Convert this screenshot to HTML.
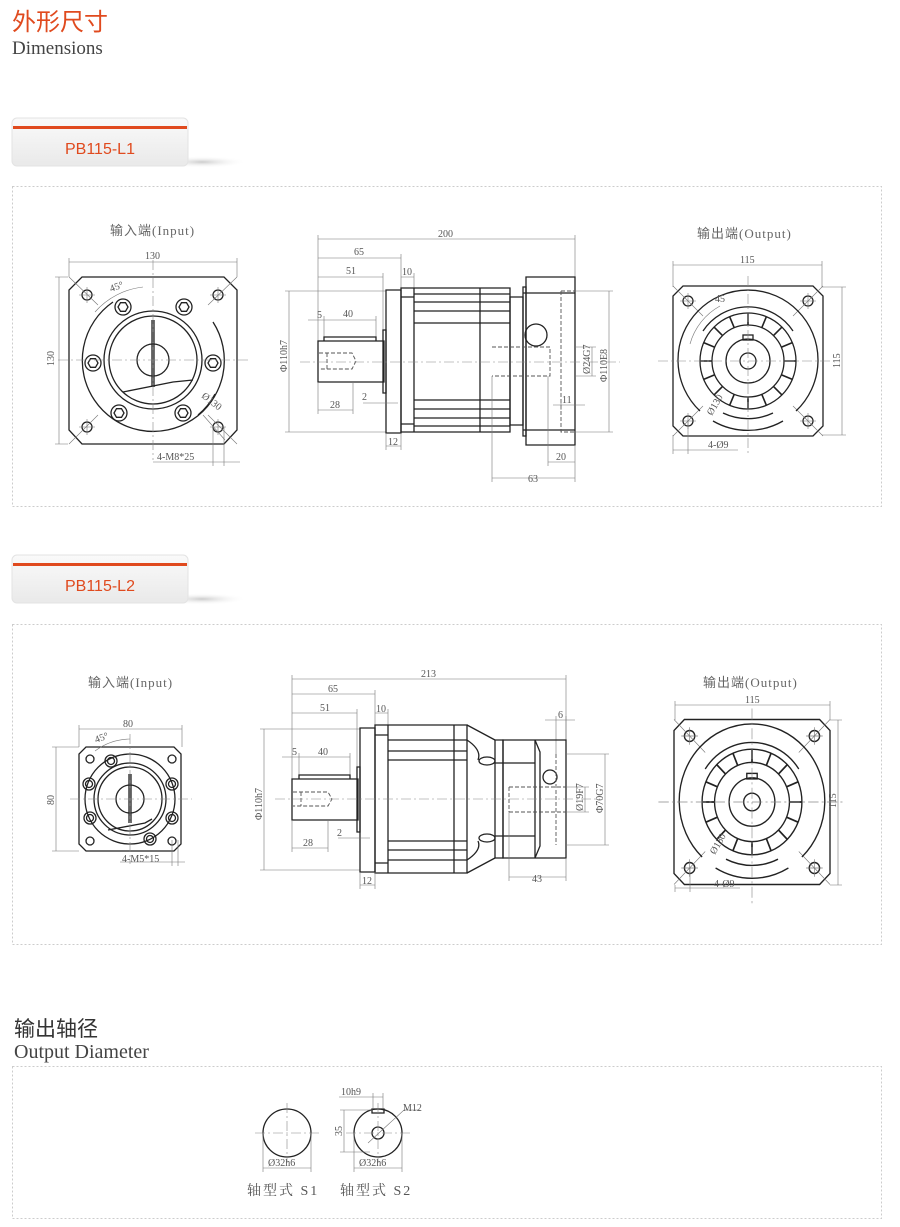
<!DOCTYPE html>
<html><head><meta charset="utf-8">
<style>
html,body{margin:0;padding:0;background:#fff;width:900px;height:1227px;overflow:hidden}
svg{display:block}
.o{fill:none;stroke:#222;stroke-width:1.3}
.d{fill:none;stroke:#777;stroke-width:.6}
.c{fill:none;stroke:#888;stroke-width:.6;stroke-dasharray:10 3 2 3}
.h{fill:none;stroke:#555;stroke-width:.9;stroke-dasharray:4 2}
.t{font-family:"Liberation Serif","Noto Serif CJK SC",serif;font-size:10px;fill:#555}
.lab{font-family:"Liberation Serif","Noto Sans CJK SC",serif;font-size:13px;fill:#666;letter-spacing:1px}
.tab{font-family:"Liberation Sans",sans-serif;font-size:16px;fill:#e04a1e}
</style></head><body>
<svg width="900" height="1227" viewBox="0 0 900 1227" xmlns="http://www.w3.org/2000/svg">
<defs>
<linearGradient id="tg" x1="0" y1="0" x2="0" y2="1"><stop offset="0" stop-color="#fafafa"/><stop offset="1" stop-color="#e9e9e9"/></linearGradient>
<radialGradient id="sh" cx="0.5" cy="0.5" r="0.5"><stop offset="0" stop-color="#ccc"/><stop offset="1" stop-color="#fff" stop-opacity="0"/></radialGradient>
<g id="tabg">
<ellipse cx="190" cy="44" rx="45" ry="6" fill="url(#sh)"/>
<rect x="0" y="0" width="176" height="48" rx="5" fill="url(#tg)" stroke="#e3e3e3"/>
<rect x="1" y="8" width="174" height="3" fill="#e04a1e"/>
</g>
<g id="hexb"><circle r="8" class="o"/><polygon points="5,0 2.5,4.3 -2.5,4.3 -5,0 -2.5,-4.3 2.5,-4.3" class="o"/></g>
<g id="hole"><circle r="5" class="o"/><path d="M-8 0H8M0 -8V8" class="d"/></g>
<g id="outv">
<path d="M-65 -75H65L75 -65V65L65 75H-65L-75 65V-65Z" class="o"/>
<use href="#hole" x="-60" y="-60"/><use href="#hole" x="60" y="-60"/><use href="#hole" x="-60" y="60"/><use href="#hole" x="60" y="60"/>
<path d="M-75 -75L-45 -45M75 -75L45 -45M-75 75L-45 45M75 75L45 45" class="d"/>
<path d="M-48 50A70 70 0 1 1 48 50" class="o"/>
<path d="M-35 60A70 70 0 0 0 35 60" class="o"/>
<path d="M-45 -30A54 54 0 0 1 45 -30" class="o"/>
<path d="M-25 52A58 58 0 0 0 25 52" class="o"/>
<circle r="48" class="o"/><circle r="36" class="o"/><circle r="22" class="o"/><circle r="8" class="o"/>
<rect x="-5" y="-26" width="10" height="5" class="o"/>
<g class="o" style="stroke-width:1.6">
<path d="M0 -36V-48M0 36V48M-36 0H-48M36 0H48"/>
<path d="M0 -36V-48M0 36V48" transform="rotate(45)"/><path d="M0 -36V-48M0 36V48" transform="rotate(-45)"/>
<path d="M0 -36V-48M0 36V48" transform="rotate(22.5)"/><path d="M0 -36V-48M0 36V48" transform="rotate(-22.5)"/>
<path d="M0 -36V-48M0 36V48" transform="rotate(67.5)"/><path d="M0 -36V-48M0 36V48" transform="rotate(-67.5)"/>
</g>
<path d="M-90 0H90M0 -85V95" class="c"/>
</g>
</defs>

<text x="12" y="30" style="font-family:'Noto Sans CJK SC',sans-serif;font-size:24px;fill:#e04a1e">外形尺寸</text>
<text x="12" y="54" style="font-family:'Liberation Serif',serif;font-size:19px;fill:#444">Dimensions</text>

<use href="#tabg" x="12" y="118"/>
<text x="100" y="154" text-anchor="middle" class="tab">PB115-L1</text>
<rect x="12.5" y="186.5" width="869" height="320" fill="none" stroke="#ccc" stroke-dasharray="2 2"/>

<use href="#tabg" x="12" y="555"/>
<text x="100" y="591" text-anchor="middle" class="tab">PB115-L2</text>
<rect x="12.5" y="624.5" width="869" height="320" fill="none" stroke="#ccc" stroke-dasharray="2 2"/>

<text x="14" y="1036" style="font-family:'Noto Sans CJK SC',sans-serif;font-size:21px;fill:#333">输出轴径</text>
<text x="14" y="1058" style="font-family:'Liberation Serif',serif;font-size:20px;fill:#444">Output Diameter</text>
<rect x="12.5" y="1066.5" width="869" height="152" fill="none" stroke="#ccc" stroke-dasharray="2 2"/>

<!-- L1 left -->
<text x="110" y="235" class="lab">输入端(Input)</text>
<g transform="translate(153,360)">
<path d="M-71 -83H71L84 -70V70L71 84H-71L-84 70V-70Z" class="o"/>
<use href="#hole" x="-66" y="-65"/><use href="#hole" x="65" y="-65"/><use href="#hole" x="-66" y="67"/><use href="#hole" x="65" y="67"/>
<path d="M-84 -83L-55 -55M84 -83L55 -55M-84 84L-55 55M84 84L55 55" class="d"/>
<path d="M-40 -58A71 71 0 1 0 60 -38" class="o"/>
<path d="M62 34A71 71 0 0 1 45 55" class="o"/>
<circle r="49" class="o"/><circle r="44" class="o"/>
<path d="M-30 32L20 22L40 20" class="o"/>
<circle r="16" class="o"/>
<path d="M-1 -40V27M1 -40V27" class="o"/>
<use href="#hexb" x="-30" y="-53"/><use href="#hexb" x="31" y="-53"/>
<use href="#hexb" x="-60" y="3"/><use href="#hexb" x="60" y="3"/>
<use href="#hexb" x="-34" y="53"/><use href="#hexb" x="30" y="53"/>
<path d="M-95 0H95M0 -100V100" class="c"/>
<path d="M-58 -48A75 75 0 0 1 -10 -73" class="d"/>
<text x="-42" y="-68" class="t" transform="rotate(-20 -42 -68)">45°</text>
<path d="M50 55L72 80" class="d"/>
<text x="48" y="37" class="t" transform="rotate(38 48 37)">Ø130</text>
</g>
<path d="M69 262H237M69 258V277M237 258V277" class="d"/>
<text x="145" y="259" class="t">130</text>
<path d="M59 277V444M55 277H68M55 444H68" class="d"/>
<text x="54" y="366" class="t" transform="rotate(-90 54 366)">130</text>
<path d="M153 462H240M213 427V466M224 427V466" class="d"/>
<text x="157" y="460" class="t">4-M8*25</text>

<!-- L1 middle -->
<g>
<path d="M318 239H575M318 235V341M575 235V278" class="d"/>
<text x="438" y="237" class="t">200</text>
<path d="M318 258H401M401 254V290" class="d"/><text x="354" y="255" class="t">65</text>
<path d="M318 277H383M383 273V330" class="d"/><text x="346" y="274" class="t">51</text>
<path d="M401 277H414M414 273V290" class="d"/><text x="402" y="275" class="t">10</text>
<path d="M308 320H376M324 316V337M376 316V337" class="d"/><text x="317" y="318" class="t">5</text><text x="343" y="317" class="t">40</text>
<path d="M289 291V432M285 291H386M285 432H386" class="d"/>
<text x="287" y="372" class="t" transform="rotate(-90 287 372)">Φ110h7</text>
<path d="M318 341H384V382H318Z" class="o"/>
<path d="M324 341V337H376V341" class="o"/>
<path d="M319 353H352L356 361L352 369H319M327 353V369" class="h"/>
<path d="M383 330H386V393H383Z" class="o"/>
<path d="M386 290H401V433H386Z" class="o"/>
<path d="M401 288H510V432H401ZM401 297H414M401 424H414M414 288V432" class="o"/>
<path d="M414 294H510M414 302H510M414 311H510M414 323H510M414 400H510M414 409H510M414 418H510M414 426H510" class="o"/>
<path d="M480 288V432" class="o"/>
<path d="M510 297H523V425H510Z" class="o"/>
<path d="M523 287H526V436H523Z" class="o"/>
<path d="M526 277H575V445H526Z" class="o"/>
<path d="M523 293H575M523 430H575" class="o"/>
<circle cx="536" cy="335" r="11" class="o"/>
<path d="M492 347H550V376H492M561 291H575M561 291V432H575" class="h"/>
<path d="M300 362H620" class="c"/>
<path d="M383 403H398M363 403H383" class="d"/><text x="362" y="400" class="t">2</text>
<path d="M318 410H353M318 382V414M353 382V414" class="d"/><text x="330" y="408" class="t">28</text>
<path d="M386 446H401M386 433V450M401 433V450" class="d"/><text x="388" y="445" class="t">12</text>
<path d="M553 405H585M561 400V410" class="d"/><text x="562" y="403" class="t">11</text>
<path d="M548 462H575M548 376V466M575 445V466" class="d"/><text x="556" y="460" class="t">20</text>
<path d="M492 478H575M492 376V482M575 466V482" class="d"/><text x="528" y="482" class="t">63</text>
<path d="M592 347V376M575 347H596M575 376H596" class="d"/>
<text x="590" y="374" class="t" transform="rotate(-90 590 374)">Ø24G7</text>
<path d="M609 291V432M575 291H613M575 432H613" class="d"/>
<text x="607" y="382" class="t" transform="rotate(-90 607 382)">Φ110E8</text>
</g>

<!-- L1 right -->
<text x="697" y="238" class="lab">输出端(Output)</text>
<use href="#outv" transform="translate(748,361)"/>
<path d="M673 265H822M673 261V287M822 261V287" class="d"/><text x="740" y="263" class="t">115</text>
<path d="M842 287V435M822 287H846M822 435H846" class="d"/>
<text x="840" y="368" class="t" transform="rotate(-90 840 368)">115</text>
<path d="M673 450H738M673 435V454M688 420V454" class="d"/><text x="708" y="448" class="t">4-Ø9</text>
<path d="M690 344A62 62 0 0 1 720 306" class="d"/><text x="715" y="302" class="t">45</text>
<text x="712" y="416" class="t" transform="rotate(-60 712 416)">Ø130</text>

<!-- L2 left -->
<text x="88" y="687" class="lab">输入端(Input)</text>
<g transform="translate(130,799)">
<path d="M-44 -52H44L51 -45V45L44 52H-44L-51 45V-45Z" class="o"/>
<circle cx="-40" cy="-40" r="4" class="o"/><circle cx="42" cy="-40" r="4" class="o"/><circle cx="-40" cy="42" r="4" class="o"/><circle cx="42" cy="42" r="4" class="o"/>
<circle r="45" class="o"/><circle r="36" class="o"/><circle r="32" class="o"/>
<circle r="14" class="o"/>
<path d="M-1 -25V24M1 -25V24" class="o"/>
<path d="M-22 31L15 24L22 20" class="o"/>
<circle cx="-19" cy="-38" r="6" class="o"/><circle cx="-19" cy="-38" r="3.5" class="o"/>
<circle cx="-41" cy="-15" r="6" class="o"/><circle cx="-41" cy="-15" r="3.5" class="o"/>
<circle cx="-40" cy="19" r="6" class="o"/><circle cx="-40" cy="19" r="3.5" class="o"/>
<circle cx="42" cy="-15" r="6" class="o"/><circle cx="42" cy="-15" r="3.5" class="o"/>
<circle cx="42" cy="19" r="6" class="o"/><circle cx="42" cy="19" r="3.5" class="o"/>
<circle cx="20" cy="40" r="6" class="o"/><circle cx="20" cy="40" r="3.5" class="o"/>
<path d="M-60 0H62M0 -65V65" class="c"/>
<path d="M-35 -48A60 60 0 0 1 0 -60" class="d"/>
<text x="-34" y="-56" class="t" transform="rotate(-20 -34 -56)">45°</text>
</g>
<path d="M79 729H182M79 725V747M182 725V747" class="d"/><text x="123" y="727" class="t">80</text>
<path d="M56 747V851M52 747H79M52 851H79" class="d"/>
<text x="54" y="805" class="t" transform="rotate(-90 54 805)">80</text>
<path d="M120 862H185M172 840V866M178 840V866" class="d"/><text x="122" y="862" class="t">4-M5*15</text>

<!-- L2 middle -->
<g>
<path d="M292 679H566M292 675V779M566 675V740" class="d"/><text x="421" y="677" class="t">213</text>
<path d="M292 694H375M375 690V728" class="d"/><text x="328" y="692" class="t">65</text>
<path d="M292 713H357M357 709V767" class="d"/><text x="320" y="711" class="t">51</text>
<path d="M375 713H388M388 709V725" class="d"/><text x="376" y="712" class="t">10</text>
<path d="M545 720H575M556 716V754M566 716V740" class="d"/><text x="558" y="718" class="t">6</text>
<path d="M282 757H350M299 753V775M350 753V775" class="d"/><text x="292" y="755" class="t">5</text><text x="318" y="755" class="t">40</text>
<path d="M264 729V870M260 729H360M260 870H360" class="d"/>
<text x="262" y="820" class="t" transform="rotate(-90 262 820)">Φ110h7</text>
<path d="M292 779H358V820H292Z" class="o"/>
<path d="M299 779V775H350V779" class="o"/>
<path d="M293 792H328L332 799L328 806H293M301 792V806" class="h"/>
<path d="M357 767H360V832H357Z" class="o"/>
<path d="M360 728H375V872H360Z" class="o"/>
<path d="M375 725H467V873H375ZM375 735H388M375 863H388M388 725V873" class="o"/>
<path d="M388 740H467M388 751H467M388 760H467M388 841H467M388 850H467M388 860H467" class="o"/>
<path d="M454 725V873" class="o"/>
<path d="M467 725L495 740M467 873L495 858" class="o"/>
<path d="M467 740Q482 750 478 760M467 860Q482 850 478 841" class="o"/>
<ellipse cx="487" cy="761" rx="8" ry="4" class="o"/><ellipse cx="487" cy="838" rx="8" ry="4" class="o"/>
<path d="M495 740H503V858H495Z" class="o"/>
<path d="M503 740H566V858H503Z" class="o"/>
<path d="M495 763H535M495 836H535" class="o"/>
<path d="M535 740V858M535 740L540 752V846L535 858" class="o"/>
<circle cx="550" cy="777" r="7" class="o"/>
<path d="M509 787H566M509 812H566M509 787V812M556 754V845" class="h"/>
<path d="M275 799H600" class="c"/>
<path d="M338 838H370" class="d"/><text x="337" y="836" class="t">2</text>
<path d="M292 848H328M292 820V852M328 820V852" class="d"/><text x="303" y="846" class="t">28</text>
<path d="M360 885H375M360 872V889M375 872V889" class="d"/><text x="362" y="884" class="t">12</text>
<path d="M509 877H566M509 812V881M566 858V881" class="d"/><text x="532" y="882" class="t">43</text>
<path d="M585 787V812M566 787H589M566 812H589" class="d"/>
<text x="583" y="811" class="t" transform="rotate(-90 583 811)">Ø19F7</text>
<path d="M605 754V845M566 754H609M566 845H609" class="d"/>
<text x="603" y="813" class="t" transform="rotate(-90 603 813)">Φ70G7</text>
</g>

<!-- L2 right -->
<text x="703" y="687" class="lab">输出端(Output)</text>
<use href="#outv" transform="translate(752,802) scale(1.04,1.1)"/>
<path d="M675 705H830M675 701V720M830 701V720" class="d"/><text x="745" y="703" class="t">115</text>
<path d="M838 720V885M830 720H842M830 885H842" class="d"/>
<text x="836" y="808" class="t" transform="rotate(-90 836 808)">115</text>
<path d="M675 888H740M675 885V892M690 868V892" class="d"/><text x="714" y="887" class="t">4-Ø9</text>
<text x="715" y="855" class="t" transform="rotate(-60 715 855)">Ø130</text>

<!-- Output diameter -->
<circle cx="287" cy="1133" r="24" class="o"/>
<path d="M255 1133H319M287 1103V1163" class="c"/>
<path d="M263 1168H311M263 1133V1172M311 1133V1172" class="d"/>
<text x="268" y="1166" class="t">Ø32h6</text>
<circle cx="378" cy="1133" r="24" class="o"/>
<circle cx="378" cy="1133" r="6" class="o"/>
<path d="M372 1113H384V1109H372Z" class="o"/>
<path d="M346 1133H410M378 1103V1163" class="c"/>
<path d="M339 1097H383M373 1093V1109M383 1093V1109" class="d"/><text x="341" y="1095" class="t">10h9</text>
<path d="M344 1110V1152M340 1110H373M340 1152H370" class="d"/>
<text x="342" y="1136" class="t" transform="rotate(-90 342 1136)">35</text>
<path d="M368 1143L404 1110H420" class="d"/><text x="403" y="1111" class="t">M12</text>
<path d="M354 1168H402M354 1133V1172M402 1133V1172" class="d"/>
<text x="359" y="1166" class="t">Ø32h6</text>
<text x="247" y="1195" style="font-family:'Liberation Serif','Noto Serif CJK SC',serif;font-size:14px;fill:#555;letter-spacing:2px">轴型式 S1</text>
<text x="340" y="1195" style="font-family:'Liberation Serif','Noto Serif CJK SC',serif;font-size:14px;fill:#555;letter-spacing:2px">轴型式 S2</text>
</svg>
</body></html>
